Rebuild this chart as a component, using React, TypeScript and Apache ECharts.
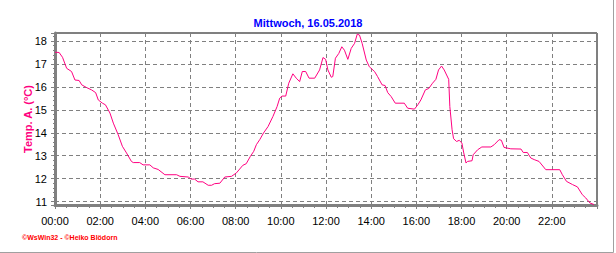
import React, { useEffect, useRef } from "react";
import * as echarts from "echarts";

const titleText = "Mittwoch, 16.05.2018";
const yAxisName = "Temp. A. (°C)";
const footerText = "©WsWin32 - ©Heiko Blödorn";

const minutes = [
  0, 3, 11, 20, 31, 44, 53, 64, 71, 84, 97, 108, 115, 126, 134, 146, 155, 168, 179, 190,
  203, 208, 225, 234, 252, 261, 274, 292, 323, 332, 354, 362, 371, 380, 393, 407, 416, 424,
  438, 451, 469, 482, 499, 508, 519, 528, 535, 544, 554, 566, 579, 590, 597, 603, 613, 621,
  632, 641, 650, 657, 666, 675, 690, 703, 712, 719, 725, 734, 738, 745, 754, 762, 769, 778,
  787, 796, 803, 809, 816, 827, 835, 849, 857, 869, 877, 884, 893, 904, 928, 937, 955, 964,
  972, 984, 993, 1003, 1012, 1019, 1027, 1034, 1046, 1049, 1055, 1059, 1067, 1074, 1081,
  1086, 1092, 1096, 1108, 1111, 1123, 1134, 1158, 1167, 1180, 1186, 1193, 1211, 1238, 1244,
  1255, 1264, 1273, 1286, 1304, 1341, 1348, 1359, 1375, 1388, 1401, 1410, 1421, 1432,
];

const temps = [
  17.5, 17.51, 17.5, 17.29, 16.81, 16.67, 16.3, 16.28, 16.09, 15.97, 15.87, 15.75, 15.43,
  15.29, 15.22, 14.86, 14.42, 13.91, 13.41, 13.12, 12.75, 12.7, 12.7, 12.6, 12.6, 12.47,
  12.4, 12.17, 12.17, 12.1, 12.07, 11.98, 11.98, 11.86, 11.86, 11.71, 11.71, 11.78, 11.8,
  12.07, 12.1, 12.25, 12.58, 12.65, 12.97, 13.19, 13.48, 13.7, 13.99, 14.27, 14.71, 15.14,
  15.51, 15.6, 15.6, 16.16, 16.57, 16.38, 16.23, 16.67, 16.67, 16.38, 16.38, 16.74, 17.28,
  17.2, 16.74, 16.42, 16.45, 17.25, 17.46, 17.75, 17.6, 17.2, 17.68, 17.9, 18.3, 18.26,
  17.9, 17.17, 16.88, 16.67, 16.45, 16.09, 16.06, 15.75, 15.58, 15.29, 15.29, 15.07, 15.03,
  15.22, 15.43, 15.87, 15.93, 16.16, 16.33, 16.74, 16.91, 16.74, 16.33, 15.14, 14.13, 13.74,
  13.62, 13.67, 13.55, 13.12, 12.68, 12.75, 12.78, 13.04, 13.26, 13.38, 13.38, 13.48, 13.7,
  13.67, 13.36, 13.3, 13.29, 13.14, 13.14, 12.9, 12.83, 12.75, 12.39, 12.39, 12.17, 11.88,
  11.74, 11.64, 11.3, 11.16, 10.94, 10.87,
];

const xMin = 0;
const xMax = 1440;
const xStep = 120;
const yMin = 10.85;
const yMax = 18.35;

const pad = (n: number) => (n < 10 ? "0" + n : "" + n);
const fmtTime = (m: number) => pad(Math.floor(m / 60)) + ":" + pad(m % 60);

export default function App() {
  const ref = useRef<HTMLDivElement>(null);
  useEffect(() => {
    document.body.style.margin = "0";
    if (!ref.current) return;
    const chart = echarts.init(ref.current, null, { renderer: "svg" });
    const font = "'Liberation Sans', Arial, sans-serif";
    chart.setOption({
      animation: false,
      backgroundColor: "#ffffff",
      textStyle: { fontFamily: font },
      title: {
        text: titleText,
        left: "center",
        top: 12,
        textStyle: { color: "#0000ff", fontSize: 11, fontWeight: "bold", fontFamily: font },
      },
      grid: {
        left: 55,
        right: 19,
        top: 33,
        bottom: 48,
        show: true,
        borderColor: "#000000",
        borderWidth: 1,
      },
      xAxis: {
        type: "value",
        min: xMin,
        max: xMax,
        interval: xStep,
        axisLine: { show: true, lineStyle: { color: "#808080", width: 3 } },
        axisTick: { show: true, length: 4, lineStyle: { color: "#808080", width: 1 } },
        minorTick: { show: true, splitNumber: 4, length: 3, lineStyle: { color: "#808080", width: 1 } },
        axisLabel: {
          color: "#000000",
          fontSize: 11,
          fontFamily: font,
          margin: 10,
          showMaxLabel: false,
          formatter: (v: number) => fmtTime(v),
        },
        splitLine: { show: true, lineStyle: { color: "#808080", type: [4, 3], width: 1 } },
      },
      yAxis: {
        type: "value",
        min: yMin,
        max: yMax,
        splitNumber: 7,
        minInterval: 1,
        maxInterval: 1,
        name: yAxisName,
        nameLocation: "middle",
        nameGap: 22,
        nameMoveOverlap: false,
        nameTextStyle: { color: "#ff0080", fontSize: 11, fontWeight: "bold", fontFamily: font },
        axisLine: { show: true, lineStyle: { color: "#808080", width: 3 } },
        axisTick: { show: true, length: 4, lineStyle: { color: "#808080", width: 1 } },
        minorTick: { show: true, splitNumber: 5, length: 2, lineStyle: { color: "#808080", width: 1 } },
        axisLabel: {
          color: "#000000",
          fontSize: 11,
          fontFamily: font,
          margin: 8,
          showMinLabel: false,
          showMaxLabel: false,
        },
        splitLine: { show: true, lineStyle: { color: "#808080", type: [4, 3], width: 1 } },
      },
      graphic: [
        {
          type: "text",
          left: 22,
          top: 234,
          style: {
            text: footerText,
            fill: "#ff0000",
            fontSize: 7,
            fontWeight: "bold",
            fontFamily: font,
          },
        },
        {
          type: "line",
          shape: { x1: 613.5, y1: 0, x2: 613.5, y2: 252.5 },
          style: { stroke: "#a0a0a0", lineWidth: 1 },
        },
        {
          type: "line",
          shape: { x1: 0, y1: 252.5, x2: 613.5, y2: 252.5 },
          style: { stroke: "#a0a0a0", lineWidth: 1 },
        },
      ],
      series: [
        {
          type: "line",
          data: minutes.map((m, i) => [m, temps[i]]),
          showSymbol: false,
          symbol: "none",
          lineStyle: { color: "#ff0080", width: 1 },
          z: 3,
        },
      ],
    });
    return () => chart.dispose();
  }, []);
  return <div ref={ref} style={{ width: 616, height: 253 }} />;
}
